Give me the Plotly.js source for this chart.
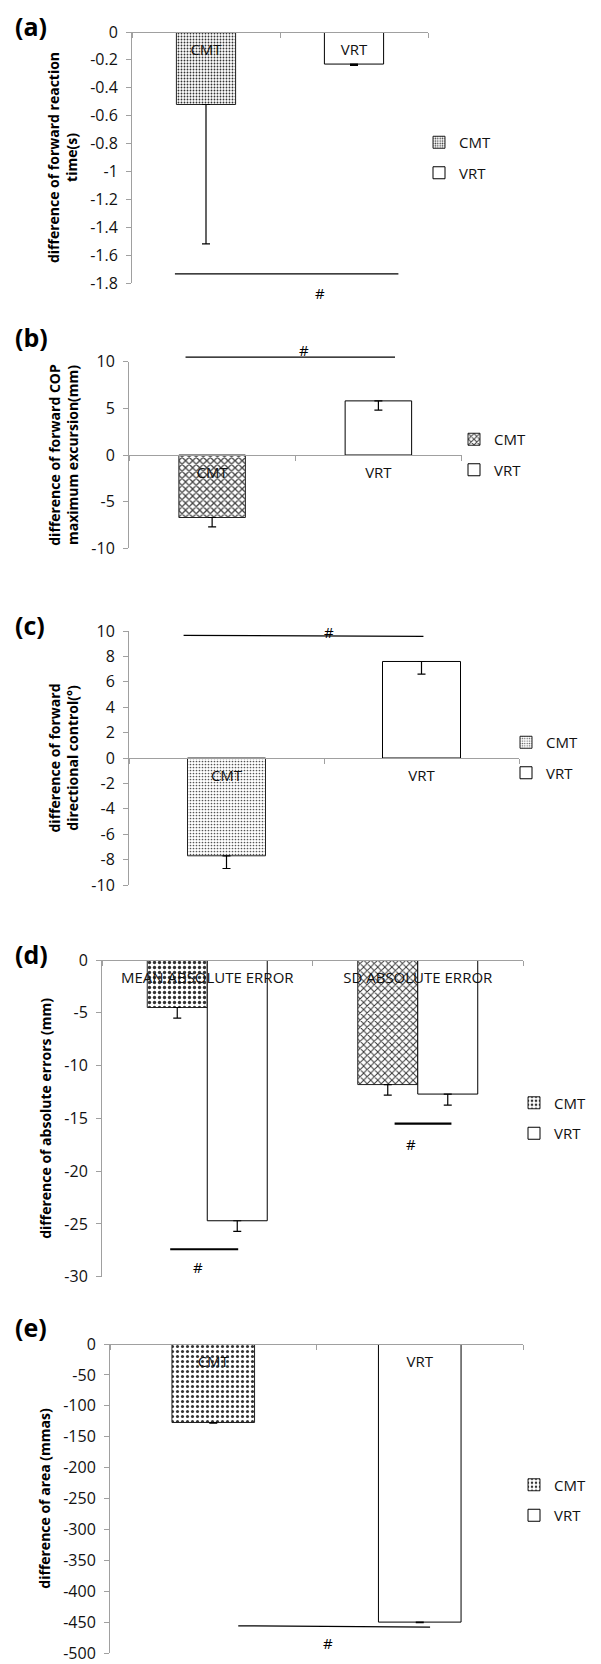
<!DOCTYPE html>
<html><head><meta charset="utf-8">
<script src="https://cdn.plot.ly/plotly-3.0.1.min.js"></script>
<style>html,body{margin:0;padding:0;background:#fff;}#chart{width:601px;height:1664px;}</style>
</head><body><div id="chart"></div>
<script>
// ---------- data ----------
const groups = ['CMT', 'VRT'];
const reactionTime = [-0.52, -0.23];
const reactionTimeErr = [1.0, 0.01];
const copExcursion = [-6.7, 5.8];
const copExcursionErr = [1.0, 1.0];
const directionalControl = [-7.7, 7.6];
const directionalControlErr = [1.0, 1.0];
const errorCategories = ['MEAN ABSOLUTE ERROR', 'SD ABSOLUTE ERROR'];
const absErrCMT = [-4.5, -11.8];
const absErrCMTErr = [1.0, 1.0];
const absErrVRT = [-24.7, -12.7];
const absErrVRTErr = [1.0, 1.05];
const areaDiff = [-127, -450];
const areaDiffErr = [1, 1];

const ticksA = [0, -0.2, -0.4, -0.6, -0.8, -1, -1.2, -1.4, -1.6, -1.8];
const tickTextA = ['0', '-0.2', '-0.4', '-0.6', '-0.8', '-1', '-1.2', '-1.4', '-1.6', '-1.8'];
const ticksB = [10, 5, 0, -5, -10];
const tickTextB = ['10', '5', '0', '-5', '-10'];
const ticksC = [10, 8, 6, 4, 2, 0, -2, -4, -6, -8, -10];
const tickTextC = ['10', '8', '6', '4', '2', '0', '-2', '-4', '-6', '-8', '-10'];
const ticksD = [0, -5, -10, -15, -20, -25, -30];
const tickTextD = ['0', '-5', '-10', '-15', '-20', '-25', '-30'];
const ticksE = [0, -50, -100, -150, -200, -250, -300, -350, -400, -450, -500];
const tickTextE = ['0', '-50', '-100', '-150', '-200', '-250', '-300', '-350', '-400', '-450', '-500'];

// ---------- layout geometry (pixels) ----------
const W = 601, H = 1664;
const FONT = 'Open Sans';
const GRAY = '#a0a0a0';
const panels = [
  {n: '', letter: '(a)', letterY: 26, x0: 132, x1: 428, y0: 32, y1: 283, range: [-1.8, 0],
   cats: groups, tv: ticksA, tt: tickTextA, title: 'difference of forward reaction<br>time(s)',
   legX: 467, legY: 157.5},
  {n: '2', letter: '(b)', letterY: 337, x0: 129, x1: 461.5, y0: 361.7, y1: 548.3, range: [-10, 10],
   cats: groups, tv: ticksB, tt: tickTextB, title: 'difference of forward COP<br>maximum excursion(mm)',
   legX: 502, legY: 454.5},
  {n: '3', letter: '(c)', letterY: 625, x0: 129, x1: 519, y0: 631, y1: 885, range: [-10, 10],
   cats: groups, tv: ticksC, tt: tickTextC, title: 'difference of forward<br>directional control(°)',
   legX: 554, legY: 757.5},
  {n: '4', letter: '(d)', letterY: 954, x0: 102, x1: 523, y0: 960, y1: 1276.7, range: [-30, 0],
   cats: errorCategories, tv: ticksD, tt: tickTextD, title: 'difference of absolute errors (mm)',
   legX: 562, legY: 1118},
  {n: '5', letter: '(e)', letterY: 1327, x0: 110, x1: 523, y0: 1344, y1: 1653, range: [-500, 0],
   cats: groups, tv: ticksE, tt: tickTextE, title: 'difference of area (mmas)',
   legX: 562, legY: 1500}
];

const layout = {
  width: W, height: H,
  margin: {l: 0, r: 0, t: 0, b: 0},
  paper_bgcolor: '#fff', plot_bgcolor: 'rgba(0,0,0,0)',
  font: {family: FONT, size: 15, color: '#111'},
  barmode: 'group',
  showlegend: true,
  shapes: [], annotations: []
};

panels.forEach((p, i) => {
  const yd0 = 1 - p.y1 / H, yd1 = 1 - p.y0 / H;
  const zeroPos = yd0 + (0 - p.range[0]) / (p.range[1] - p.range[0]) * (yd1 - yd0);
  layout['xaxis' + p.n] = {
    domain: [p.x0 / W, p.x1 / W], anchor: 'free', position: zeroPos,
    type: 'category', categoryarray: p.cats, categoryorder: 'array', range: [-0.5, 1.5],
    showline: true, linecolor: GRAY, linewidth: 1,
    ticks: 'outside', ticklen: 5, tickcolor: GRAY, tickson: 'boundaries',
    showgrid: false, zeroline: false, fixedrange: true,
    tickfont: {family: FONT, size: 15, color: '#111'}, ticklabelstandoff: 4
  };
  layout['yaxis' + p.n] = {
    domain: [yd0, yd1], anchor: 'x' + p.n, range: p.range,
    tickmode: 'array', tickvals: p.tv, ticktext: p.tt,
    showline: true, linecolor: GRAY, linewidth: 1,
    ticks: 'outside', ticklen: 5, tickcolor: GRAY,
    showgrid: false, zeroline: false, fixedrange: true, ticklabeloverflow: 'allow',
    tickfont: {family: FONT, size: 16, color: '#111'}, ticklabelstandoff: 5,
    title: {text: p.title, font: {family: FONT, size: 14, weight: 700, color: '#000'}, standoff: 9}
  };
  layout['legend' + p.n] = {
    x: (p.legX - 48) / W, xanchor: 'left', y: 1 - p.legY / H, yanchor: 'middle',
    bgcolor: 'rgba(0,0,0,0)', font: {family: FONT, size: 15, color: '#111'},
    tracegroupgap: 8, itemwidth: 30
  };
  layout.annotations.push({
    xref: 'paper', yref: 'paper', x: 13 / W, y: 1 - p.letterY / H, xanchor: 'left', yanchor: 'middle',
    text: '<b>' + p.letter + '</b>', showarrow: false, font: {family: FONT, size: 25, color: '#000'}
  });
});

function dom(pi, v) { const r = panels[pi].range; return (v - r[0]) / (r[1] - r[0]); }
function sigLine(pi, xa, xb, ya, yb, w) {
  const n = panels[pi].n;
  layout.shapes.push({type: 'line', xref: 'x' + n, yref: 'y' + n + ' domain',
    x0: xa, x1: xb, y0: dom(pi, ya), y1: dom(pi, yb), line: {color: '#000', width: w || 1.3}});
}
function hash(pi, x, y) {
  const n = panels[pi].n;
  layout.annotations.push({xref: 'x' + n, yref: 'y' + n + ' domain', x: x, y: dom(pi, y), text: '#',
    xanchor: 'center', yanchor: 'middle',
    showarrow: false, font: {family: FONT, size: 15, color: '#000'}});
}
sigLine(0, -0.21, 1.30, -1.735, -1.735); hash(0, 0.77, -1.872);
sigLine(1, -0.16, 1.10, 10.5, 10.5); hash(1, 0.554, 11.25);
sigLine(2, -0.22, 1.01, 9.65, 9.58); hash(2, 0.526, 9.95);
sigLine(3, -0.176, 0.147, -27.4, -27.4, 2.2); hash(3, -0.043, -29.1);
sigLine(3, 0.89, 1.16, -15.5, -15.5, 2.2); hash(3, 0.97, -17.4);
sigLine(4, 0.121, 1.05, -456, -458); hash(4, 0.557, -484);

// ---------- traces ----------
const WHITE = {color: '#fff', line: {color: '#000', width: 1}};
function pat(shape, size, solidity, fg) {
  return {color: '#fff', line: {color: '#222', width: 1},
    pattern: {shape: shape, size: size, solidity: solidity, fgcolor: fg, bgcolor: '#fff', fillmode: 'replace'}};
}
function err(minus) {
  return {type: 'data', symmetric: false, array: minus.map(() => 0), arrayminus: minus,
    color: '#000', thickness: 1.2, width: 4};
}
const traces = [];
function single(pi, values, errs, cmtMarker) {
  const n = panels[pi].n;
  [0, 1].forEach(k => {
    traces.push({
      type: 'bar', x: groups.slice(k, k + 1), y: values.slice(k, k + 1), name: groups[k],
      xaxis: 'x' + n, yaxis: 'y' + n, legend: 'legend' + n, legendgroup: 'p' + pi + groups[k],
      width: 0.4, offset: -0.2,
      marker: k === 0 ? cmtMarker : WHITE,
      error_y: err(errs.slice(k, k + 1)), hoverinfo: 'skip'
    });
  });
}
single(0, reactionTime, reactionTimeErr, pat('.', 3, 0.3, '#333'));
single(1, copExcursion, copExcursionErr, pat('x', 5, 0.45, '#444'));
single(2, directionalControl, directionalControlErr, pat('.', 3, 0.25, '#555'));
traces.push({
  type: 'bar', x: errorCategories, y: absErrCMT, name: 'CMT', xaxis: 'x4', yaxis: 'y4',
  legend: 'legend4', legendgroup: 'p3CMT', width: 0.285, offset: -0.285,
  marker: {color: '#fff', line: {color: '#222', width: 1},
    pattern: {shape: ['.', 'x'], size: 5, solidity: 0.35, fgcolor: '#333', bgcolor: '#fff', fillmode: 'replace'}},
  error_y: err(absErrCMTErr), hoverinfo: 'skip'
});
traces.push({
  type: 'bar', x: errorCategories, y: absErrVRT, name: 'VRT', xaxis: 'x4', yaxis: 'y4',
  legend: 'legend4', legendgroup: 'p3VRT', width: 0.285, offset: 0,
  marker: WHITE, error_y: err(absErrVRTErr), hoverinfo: 'skip'
});
single(4, areaDiff, areaDiffErr, pat('.', 5, 0.3, '#333'));

Plotly.newPlot('chart', traces, layout, {displayModeBar: false, staticPlot: true});
</script></body></html>
